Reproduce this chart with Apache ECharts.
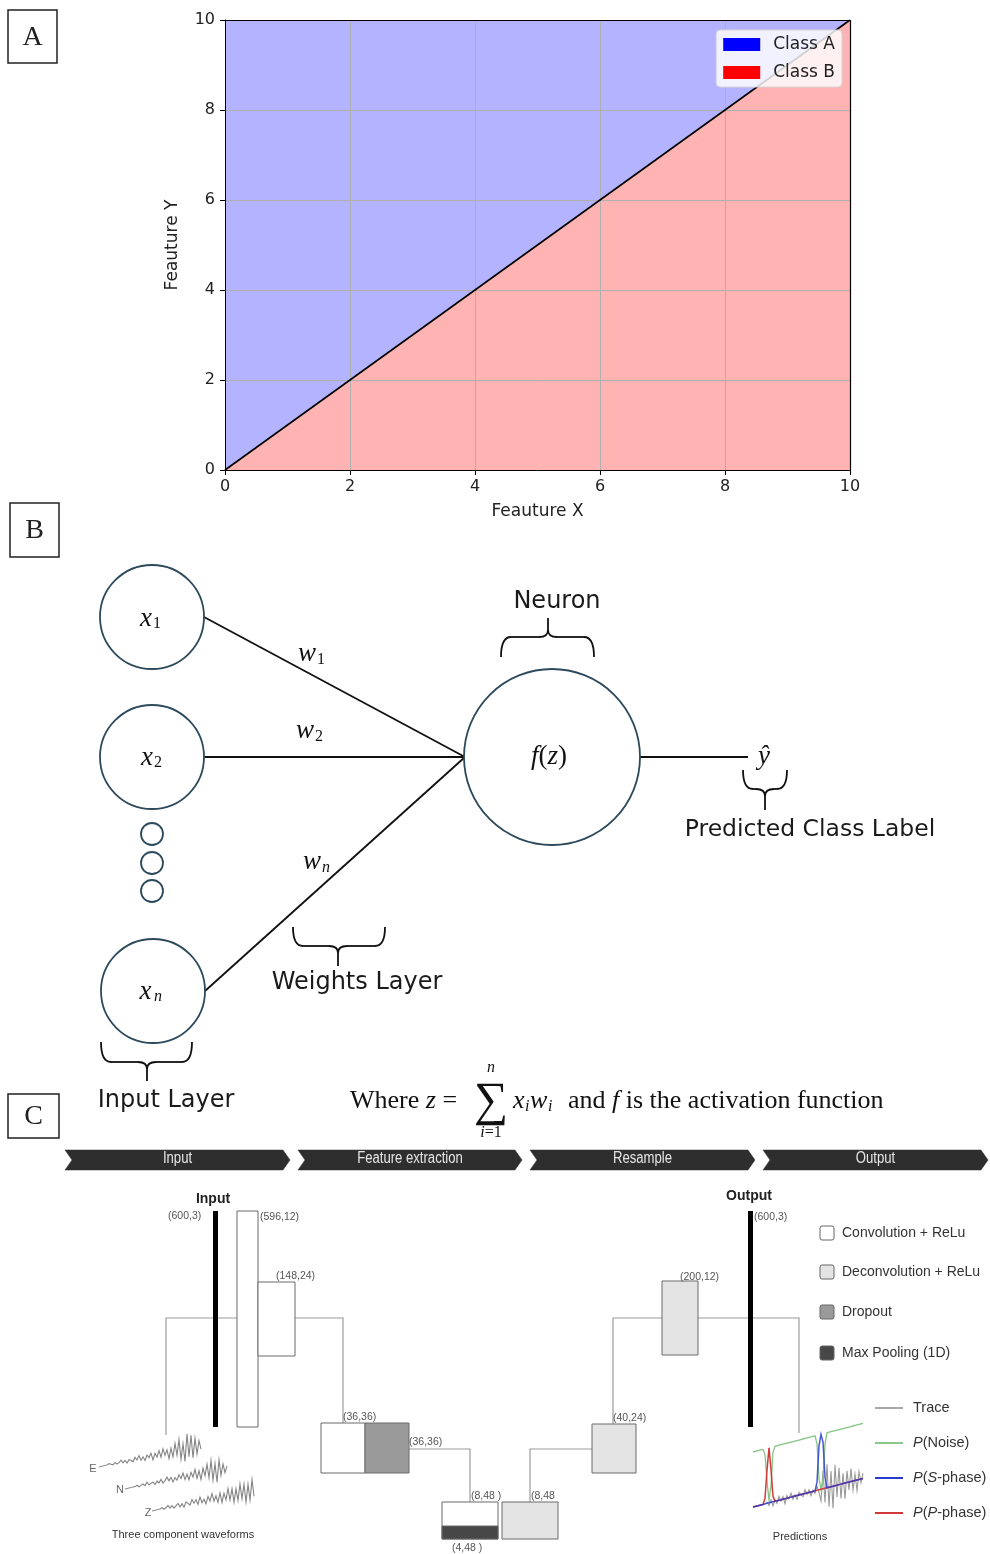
<!DOCTYPE html>
<html><head><meta charset="utf-8">
<script src="https://cdn.jsdelivr.net/npm/echarts@6/dist/echarts.min.js"></script>
<style>html,body{margin:0;padding:0;background:#fff}#c{width:990px;height:1554px}</style>
</head><body><div id="c"></div>
<script>
// ---------- Panel A data ----------
const axisMin = 0, axisMax = 10, tickStep = 2;
const gridTicks = [2, 4, 6, 8];
const boundaryX = [0, 10];
const boundaryY = [0, 10];
const classNames = ['Class A', 'Class B'];
const axisNames = ['Feauture X', 'Feauture Y'];

// ---------- Panel B labels ----------
const bLabels = ['Neuron', 'Predicted Class Label', 'Weights Layer', 'Input Layer'];
const inputSubs = ['1', '2', 'n'];

// ---------- Panel C data ----------
const stageNames = ['Input', 'Feature extraction', 'Resample', 'Output'];
const layerShapes = ['(600,3)', '(596,12)', '(148,24)', '(36,36)', '(36,36)', '(8,48 )', '(4,48 )', '(8,48', '(40,24)', '(200,12)', '(600,3)'];
const blockLegend = ['Convolution + ReLu', 'Deconvolution + ReLu', 'Dropout', 'Max Pooling (1D)'];
const compNames = ['E', 'N', 'Z'];
const traceE = [0,1,0,-1,1,-1,0,2,-1,1,-2,1,0,-2,2,-1,3,-2,1,-3,2,-1,3,-4,2,-2,4,-3,5,-2,3,-6,4,-5,8,-4,11,-9,6,-12,15,-8,13,-10,9,-7,6,-3];
const traceN = [0,0,1,-1,0,1,-1,2,-1,0,1,-2,1,-1,2,-2,0,3,-1,2,-3,1,-2,3,-1,4,-3,2,-4,3,-2,5,-4,3,-6,5,-3,8,-6,11,-9,7,-12,10,-6,5,-4,2];
const traceZ = [0,1,-1,0,2,-1,1,-2,0,2,-2,1,-3,2,0,-2,3,-1,2,-3,4,-2,1,-4,3,-2,5,-3,2,-5,4,-6,3,-4,7,-5,6,-8,5,-7,9,-6,8,-10,7,-9,11,-6];
const predTrace = [0,0,0,0,0,0,0,1,-2,2,-3,1,-2,3,-1,2,-4,2,-1,3,-2,1,-3,2,0,-2,3,-1,2,-3,1,-2,3,-2,-9,14,-11,18,-15,12,-17,16,-9,13,-11,8,-12,9,-6,10,-7,5,-8,6,-3,4];
const probNoise = [1,1,1,1,1,1,0.9,0.4,0.05,0.3,0.9,1,1,1,1,1,1,1,1,1,1,1,1,1,1,1,1,1,1,1,1,1,0.85,0.2,0,0.15,0.8,1,1,1,1,1,1,1,1,1,1,1,1,1,1,1,1,1,1,1];
const probP = [0,0,0,0,0,0,0.1,0.6,1,0.6,0.1,0,0,0,0,0,0,0,0,0,0,0,0,0,0,0,0,0,0,0,0,0,0,0,0,0,0,0,0,0,0,0,0,0,0,0,0,0,0,0,0,0,0,0,0,0];
const probS = [0,0,0,0,0,0,0,0,0,0,0,0,0,0,0,0,0,0,0,0,0,0,0,0,0,0,0,0,0,0,0,0,0.15,0.8,1,0.85,0.2,0,0,0,0,0,0,0,0,0,0,0,0,0,0,0,0,0,0,0];
const predLegend = ['Trace', '{i|P}(Noise)', '{i|P}({i|S}-phase)', '{i|P}({i|P}-phase)'];

// ---------- helpers ----------
const SERIF = 'Liberation Serif';
const SANS = 'DejaVu Sans';
const ARIAL = 'Liberation Sans';
function T(x, y, text, o) {
  o = o || {};
  const st = {
    text: text, fill: o.color || '#111', fontSize: o.size || 14,
    fontFamily: o.family || SANS, fontWeight: o.weight || 'normal', fontStyle: o.style || 'normal',
    textAlign: o.align || 'center', align: o.align || 'center',
    textVerticalAlign: o.valign || 'middle', verticalAlign: o.valign || 'middle'
  };
  if (o.rich) st.rich = o.rich;
  return { type: 'text', x: x, y: y, z: 30, scaleX: o.sx || 1, style: st, silent: true };
}
function richMath(size, color) {
  color = color || '#111';
  return {
    i: { fontStyle: 'italic', fontFamily: SERIF, fontSize: size, fill: color, color: color },
    n: { fontStyle: 'normal', fontFamily: SERIF, fontSize: size, fill: color, color: color }
  };
}
function brace(a, b, m, y0, y1, y2) {
  const r = 10, r2 = 9, d = (y2 > y1 ? 1 : -1) * 7;
  const s = { stroke: '#111', lineWidth: 1.8, fill: 'none' };
  return [
    { type: 'bezierCurve', shape: { x1: a, y1: y0, x2: a + r, y2: y1, cpx1: a, cpy1: y1 }, style: s },
    { type: 'line', shape: { x1: a + r, y1: y1, x2: m - r2, y2: y1 }, style: s },
    { type: 'bezierCurve', shape: { x1: m - r2, y1: y1, x2: m, y2: y1 + d, cpx1: m, cpy1: y1 }, style: s },
    { type: 'bezierCurve', shape: { x1: m, y1: y1 + d, x2: m + r2, y2: y1, cpx1: m, cpy1: y1 }, style: s },
    { type: 'line', shape: { x1: m, y1: y1 + d, x2: m, y2: y2 }, style: s },
    { type: 'line', shape: { x1: m + r2, y1: y1, x2: b - r, y2: y1 }, style: s },
    { type: 'bezierCurve', shape: { x1: b - r, y1: y1, x2: b, y2: y0, cpx1: b, cpy1: y1 }, style: s }
  ];
}
function panelBox(x, y, w, h, letter) {
  return [
    { type: 'rect', shape: { x: x, y: y, width: w, height: h }, style: { fill: '#fff', stroke: '#222', lineWidth: 1.5 }, z: 20 },
    T(x + w / 2, y + h / 2 + 1, letter, { family: SERIF, size: 28, color: '#222' })
  ];
}
// sheared trace: samples along a slanted baseline, spikes stay vertical
function wave(arr, dx, scale, slope) {
  return arr.map((v, i) => [i * dx, -v * scale - i * dx * slope]);
}
const G = [];
function add(a) { if (Array.isArray(a)) a.forEach(e => G.push(e)); else G.push(a); }

// ---------- panel labels ----------
add(panelBox(8, 10, 49, 53, 'A'));
add(panelBox(10, 503, 49, 54, 'B'));
add(panelBox(8, 1094, 51, 44, 'C'));

// ---------- Panel B ----------
const nodeStroke = '#2d4a5c';
const lineStyleB = { stroke: '#111', lineWidth: 1.8 };
add({ type: 'line', shape: { x1: 204, y1: 617, x2: 465, y2: 757 }, style: lineStyleB });
add({ type: 'line', shape: { x1: 204, y1: 757, x2: 465, y2: 757 }, style: lineStyleB });
add({ type: 'line', shape: { x1: 205, y1: 991, x2: 465, y2: 757 }, style: lineStyleB });
add({ type: 'line', shape: { x1: 640, y1: 757, x2: 748, y2: 757 }, style: lineStyleB });
[[152, 617, 52], [152, 757, 52], [153, 991, 52], [552, 757, 88], [152, 834, 11], [152, 863, 11], [152, 891, 11]].forEach(c => {
  add({ type: 'circle', shape: { cx: c[0], cy: c[1], r: c[2] }, style: { fill: '#fff', stroke: nodeStroke, lineWidth: 1.8 }, z: 10 });
});
[[146, 619, 157, 624], [147, 758, 158, 763], [145.5, 992, 158, 997]].forEach((p, k) => {
  add(T(p[0], p[1], 'x', { family: SERIF, size: 27, style: 'italic' }));
  add(T(p[2], p[3], inputSubs[k], { family: SERIF, size: 16, style: inputSubs[k] === 'n' ? 'italic' : 'normal' }));
});
[[307, 654, 321, 660], [305, 731, 319, 737], [312, 862, 326, 868]].forEach((p, k) => {
  add(T(p[0], p[1], 'w', { family: SERIF, size: 27, style: 'italic' }));
  add(T(p[2], p[3], inputSubs[k], { family: SERIF, size: 16, style: inputSubs[k] === 'n' ? 'italic' : 'normal' }));
});
add(T(549, 757, '{i|f}{n|(}{i|z}{n|)}', { family: SERIF, size: 27, rich: richMath(27) }));
add(T(764, 757, 'ŷ', { family: SERIF, size: 27, style: 'italic' }));
add(brace(501, 594, 548, 657, 637, 618));
add(T(557, 602, bLabels[0], { size: 24, color: '#1a1a1a' }));
add(brace(743, 787, 765, 770, 789, 810));
add(T(810, 830, bLabels[1], { size: 23.5, color: '#1a1a1a' }));
add(brace(293, 385, 338, 927, 946, 966));
add(T(357, 983, bLabels[2], { size: 24, color: '#1a1a1a' }));
add(brace(101, 192, 147, 1042, 1062, 1081));
add(T(166, 1101, bLabels[3], { size: 24, color: '#1a1a1a' }));
add(T(350, 1101, '{n|Where }{i|z}{n| =}', { family: SERIF, size: 26, align: 'left', rich: richMath(26) }));
add(T(491, 1102, '∑', { family: SERIF, size: 48 }));
add(T(491, 1068, 'n', { family: SERIF, size: 16, style: 'italic' }));
add(T(491, 1133, '{i|i}{n|=1}', { family: SERIF, size: 16, rich: richMath(16) }));
add(T(513, 1101, 'x', { family: SERIF, size: 26, style: 'italic', align: 'left' }));
add(T(525, 1107, 'i', { family: SERIF, size: 16, style: 'italic', align: 'left' }));
add(T(530, 1101, 'w', { family: SERIF, size: 26, style: 'italic', align: 'left' }));
add(T(548, 1107, 'i', { family: SERIF, size: 16, style: 'italic', align: 'left' }));
add(T(568, 1101, '{n|and }{i|f}{n| is the activation function}', { family: SERIF, size: 26, align: 'left', rich: richMath(26) }));

// ---------- Panel C ----------
const chevX = [[65, 290], [298, 522], [530, 755], [763, 988]];
chevX.forEach((c, k) => {
  const x0 = c[0], x1 = c[1];
  add({ type: 'polygon', shape: { points: [[x0, 1150], [x1 - 7, 1150], [x1, 1160], [x1 - 7, 1170], [x0, 1170], [x0 + 7, 1160]] }, style: { fill: '#2e2e2e', stroke: '#2e2e2e', lineWidth: 0.5 }, z: 10 });
  add(T((x0 + x1) / 2, 1159, stageNames[k], { family: ARIAL, size: 16, color: '#e6e6e6', sx: 0.82 }));
});
const conn = { stroke: '#9c9c9c', lineWidth: 1.2, fill: 'none' };
[
  [[166, 1435], [166, 1318], [237, 1318]],
  [[295, 1318], [343, 1318], [343, 1423]],
  [[409, 1449], [470, 1449], [470, 1502]],
  [[530, 1502], [530, 1449], [592, 1449]],
  [[613, 1424], [613, 1318], [662, 1318]],
  [[698, 1318], [799, 1318], [799, 1433]]
].forEach(p => add({ type: 'polyline', shape: { points: p }, style: conn, z: 5 }));
const boxStroke = '#6a6a6a';
[
  [237, 1211, 21, 216, '#fff'],
  [258, 1282, 37, 74, '#fff'],
  [321, 1423, 44, 50, '#fff'],
  [365, 1423, 44, 50, '#9a9a9a'],
  [442, 1502, 56, 37, '#fff'],
  [442, 1526, 56, 13, '#474747'],
  [502, 1502, 56, 37, '#e4e4e4'],
  [592, 1424, 44, 49, '#e4e4e4'],
  [662, 1281, 36, 74, '#e4e4e4']
].forEach(r => add({ type: 'rect', shape: { x: r[0], y: r[1], width: r[2], height: r[3] }, style: { fill: r[4], stroke: boxStroke, lineWidth: 1 }, z: 8 }));
add({ type: 'rect', shape: { x: 213, y: 1211, width: 5, height: 216 }, style: { fill: '#000' }, z: 9 });
add({ type: 'rect', shape: { x: 748, y: 1211, width: 5, height: 216 }, style: { fill: '#000' }, z: 9 });
add(T(213, 1199, stageNames[0], { family: ARIAL, size: 14, weight: 'bold', color: '#222' }));
add(T(749, 1196, stageNames[3], { family: ARIAL, size: 14, weight: 'bold', color: '#222' }));
const lbl = { family: ARIAL, size: 10.5, color: '#555', align: 'left' };
[[168, 1216], [260, 1217], [276, 1276], [343, 1417], [409, 1442], [471, 1496], [452, 1548], [531, 1496], [613, 1418], [680, 1277], [754, 1217]].forEach((p, k) => {
  add(T(p[0], p[1], layerShapes[k], lbl));
});
[['#fff', 1233], ['#e4e4e4', 1272], ['#9a9a9a', 1312], ['#474747', 1353]].forEach((s, k) => {
  add({ type: 'rect', shape: { x: 820, y: s[1] - 7, width: 14, height: 14, r: 2 }, style: { fill: s[0], stroke: '#666', lineWidth: 1 }, z: 10 });
  add(T(842, s[1], blockLegend[k], { family: ARIAL, size: 14, color: '#333', align: 'left' }));
});
const wStyle = { stroke: '#858585', lineWidth: 1.1, fill: 'none' };
[[traceE, 107, 1465, 93, 1469], [traceN, 133, 1487, 120, 1490], [traceZ, 160, 1509, 148, 1513]].forEach((w, k) => {
  add({ type: 'polyline', x: w[1], y: w[2], shape: { points: wave(w[0], 2, 1, 0.2) }, style: wStyle, z: 12 });
  add({ type: 'line', shape: { x1: w[1] - 8, y1: w[2] + 2, x2: w[1], y2: w[2] }, style: { stroke: '#8a8a8a', lineWidth: 1 } });
  add(T(w[3], w[4], compNames[k], { family: ARIAL, size: 11, color: '#666' }));
});
add(T(183, 1535, 'Three component waveforms', { family: ARIAL, size: 11, color: '#333' }));
const pH = 55, pSlope = 0.26;
add({ type: 'polyline', x: 753, y: 1507, shape: { points: wave(predTrace, 2, 1.3, pSlope) }, style: { stroke: '#9a9a9a', lineWidth: 1.1, fill: 'none' }, z: 12 });
add({ type: 'polyline', x: 753, y: 1507, shape: { points: wave(probNoise, 2, pH, pSlope) }, style: { stroke: '#86c486', lineWidth: 1.3, fill: 'none' }, z: 13 });
add({ type: 'polyline', x: 753, y: 1507, shape: { points: wave(probP, 2, pH, pSlope) }, style: { stroke: '#d23a3a', lineWidth: 1.5, fill: 'none' }, z: 14 });
add({ type: 'polyline', x: 753, y: 1507, shape: { points: wave(probS, 2, pH, pSlope) }, style: { stroke: '#2a3bd0', lineWidth: 1.5, fill: 'none', opacity: 0.85 }, z: 15 });
add(T(800, 1537, 'Predictions', { family: ARIAL, size: 11, color: '#333' }));
[['#a8a8a8', 1408], ['#8cc88c', 1443], ['#2a3bd0', 1478], ['#d23a3a', 1513]].forEach((s, k) => {
  add({ type: 'line', shape: { x1: 875, y1: s[1], x2: 903, y2: s[1] }, style: { stroke: s[0], lineWidth: 2 } });
  add(T(913, s[1], predLegend[k], { family: ARIAL, size: 14.5, color: '#333', align: 'left',
    rich: { i: { fontStyle: 'italic', fontFamily: ARIAL, fontSize: 14.5, fill: '#333', color: '#333' } } }));
});

// ---------- chart option ----------
const lineData = boundaryX.map((x, i) => [x, boundaryY[i]]);
const axisFont = { color: '#222', fontSize: 16, fontFamily: SANS };
const gridMarks = gridTicks.map(v => ({ xAxis: v })).concat(gridTicks.map(v => ({ yAxis: v })));
const frameMarks = [{ xAxis: axisMax }, { yAxis: axisMax }];
const option = {
  animation: false,
  backgroundColor: '#fff',
  grid: { left: 225, top: 20, width: 625, height: 450, show: false },
  legend: {
    orient: 'vertical', right: 148, top: 30, z: 20,
    backgroundColor: 'rgba(255,255,255,0.82)', borderColor: '#d6d6d6', borderWidth: 1, borderRadius: 4,
    padding: [6, 7, 6, 7], itemWidth: 37, itemHeight: 13, itemGap: 11,
    textStyle: { fontSize: 17, fontFamily: SANS, color: '#222', padding: [0, 0, 0, 8] },
    data: [
      { name: classNames[0], icon: 'rect', itemStyle: { color: '#0000ff', borderWidth: 0 } },
      { name: classNames[1], icon: 'rect', itemStyle: { color: '#ff0000', borderWidth: 0 } }
    ],
    selectedMode: false
  },
  xAxis: [{
    type: 'value', min: axisMin, max: axisMax, interval: tickStep, z: 10,
    name: axisNames[0], nameLocation: 'middle', nameGap: 33,
    nameTextStyle: { fontSize: 17, fontFamily: SANS, color: '#222' },
    axisLine: { show: true, onZero: false, lineStyle: { color: '#000', width: 1 } },
    axisTick: { show: true, length: 5, lineStyle: { color: '#000' } },
    axisLabel: Object.assign({ margin: 9 }, axisFont),
    splitLine: { show: false }
  }],
  yAxis: [{
    type: 'value', min: axisMin, max: axisMax, interval: tickStep, z: 10,
    name: axisNames[1], nameLocation: 'middle', nameGap: 44, nameRotate: 90,
    nameTextStyle: { fontSize: 17, fontFamily: SANS, color: '#222' },
    axisLine: { show: true, onZero: false, lineStyle: { color: '#000', width: 1 } },
    axisTick: { show: true, length: 5, lineStyle: { color: '#000' } },
    axisLabel: Object.assign({ margin: 10 }, axisFont),
    splitLine: { show: false }
  }],
  series: [
    {
      name: classNames[0], type: 'line', data: lineData, symbol: 'none', silent: true,
      itemStyle: { color: '#0000ff' },
      lineStyle: { width: 0 },
      areaStyle: { color: '#b3b3ff', origin: 'end', opacity: 1 }, z: 2
    },
    {
      name: classNames[1], type: 'line', data: lineData, symbol: 'none', silent: true,
      itemStyle: { color: '#ff0000' },
      lineStyle: { width: 0 },
      areaStyle: { color: '#ffb3b3', origin: 'start', opacity: 1 }, z: 3
    },
    {
      name: 'grid', type: 'line', data: lineData, symbol: 'none', silent: true,
      lineStyle: { width: 0 }, z: 4,
      markLine: {
        silent: true, symbol: ['none', 'none'], label: { show: false }, animation: false,
        lineStyle: { color: '#b0b0b0', width: 1, type: 'solid' },
        data: gridMarks
      }
    },
    {
      name: 'boundary', type: 'line', data: lineData, symbol: 'none', silent: true,
      lineStyle: { width: 1.6, color: '#000' }, z: 6
    },
    {
      name: 'frame', type: 'line', data: lineData, symbol: 'none', silent: true,
      lineStyle: { width: 0 }, z: 7,
      markLine: {
        silent: true, symbol: ['none', 'none'], label: { show: false }, animation: false,
        lineStyle: { color: '#000', width: 1.2, type: 'solid' },
        data: frameMarks
      }
    }
  ],
  graphic: { elements: G }
};
const chart = echarts.init(document.getElementById('c'), null, { renderer: 'canvas' });
chart.setOption(option);
</script></body></html>
